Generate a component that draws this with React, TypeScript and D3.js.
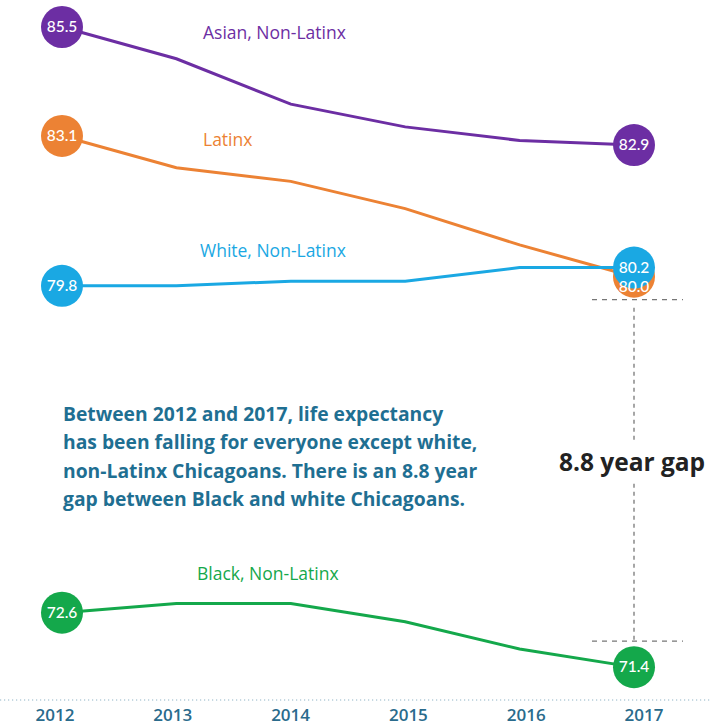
import React from "react";
import * as d3 from "d3";

const years = [2012, 2013, 2014, 2015, 2016, 2017];
const yearLabels = ["2012", "2013", "2014", "2015", "2016", "2017"];
const asian = [85.5, 84.8, 83.8, 83.3, 83.0, 82.9];
const latinx = [83.1, 82.4, 82.1, 81.5, 80.7, 80.0];
const white = [79.8, 79.8, 79.9, 79.9, 80.2, 80.2];
const black = [72.6, 72.8, 72.8, 72.4, 71.8, 71.4];
const seriesNames = ["Asian, Non-Latinx", "Latinx", "White, Non-Latinx", "Black, Non-Latinx"];
const seriesColors = ["#6c2ea3", "#ec8234", "#1aa8e3", "#14a84b"];
const annotationLines = [
  "Between 2012 and 2017, life expectancy",
  "has been falling for everyone except white,",
  "non-Latinx Chicagoans. There is an 8.8 year",
  "gap between Black and white Chicagoans.",
];
const gapLabel = "8.8 year gap";

const W = 711;
const H = 725;
const FONT = "'Open Sans', Lato, sans-serif";
const NUM_FONT = "Lato, 'Open Sans', sans-serif";

export default function App() {
  const x = d3.scalePoint<number>().domain(years).range([62, 634]);
  const xLab = d3.scalePoint<string>().domain(yearLabels).range([55, 644]);
  const y = d3.scaleLinear().domain([71, 86]).range([685.3, 4.3]);
  const line = d3
    .line<number>()
    .x((_, i) => x(years[i]) as number)
    .y((d) => y(d))
    .curve(d3.curveLinear);

  const series = [asian, latinx, white, black];
  const labelPos = [
    { x: 203, y: 39 },
    { x: 203, y: 146 },
    { x: 200, y: 257 },
    { x: 197, y: 580 },
  ];
  const r = 21;
  const last = years.length - 1;
  const xEnd = x(years[last]) as number;
  const gapTop = y(latinx[last]) + 23;
  const gapBottom = y(black[last]) - 26;

  // draw order: black, asian, latinx, white
  const order = [3, 0, 1, 2];

  return (
    <svg
      width={W}
      height={H}
      style={{ position: "absolute", left: 0, top: 0, display: "block", background: "#fff" }}
      fontFamily={FONT}
    >
      {/* axis dotted line */}
      <line x1={0} x2={W} y1={700} y2={700} stroke="#8fb3c6" strokeWidth={1.2} strokeDasharray="1.2,2.8" />
      {yearLabels.map((t) => (
        <text
          key={t}
          x={xLab(t)}
          y={721}
          textAnchor="middle"
          fontSize={17}
          fontWeight={600}
          fill="#2a6b8c"
        >
          {t}
        </text>
      ))}

      {/* gap bracket */}
      <g stroke="#777" strokeWidth={1.3} strokeDasharray="5,5" fill="none">
        <line x1={592} x2={683} y1={gapTop} y2={gapTop} />
        <line x1={592} x2={683} y1={gapBottom} y2={gapBottom} />
        <line x1={xEnd} x2={xEnd} y1={gapTop + 8} y2={gapBottom} strokeDasharray="4,4" />
      </g>
      <rect x={553} y={442} width={158} height={38} fill="#fff" />
      <text x={632} y={471} textAnchor="middle" fontSize={24.5} fontWeight={700} fill="#222">
        {gapLabel}
      </text>

      {/* annotation */}
      {annotationLines.map((l, i) => (
        <text key={i} x={63} y={421 + i * 28.3} fontSize={19.3} fontWeight={700} fill="#1f6f92">
          {l}
        </text>
      ))}

      {/* series lines */}
      {order.map((si) => (
        <path key={si} d={line(series[si]) || ""} fill="none" stroke={seriesColors[si]} strokeWidth={3} />
      ))}

      {/* series labels */}
      {seriesNames.map((n, si) => (
        <text key={n} x={labelPos[si].x} y={labelPos[si].y} fontSize={17.5} fontWeight={500} fill={seriesColors[si]}>
          {n}
        </text>
      ))}

      {/* end circles */}
      {order.map((si) => {
        const s = series[si];
        return (
          <g key={si}>
            <circle cx={x(years[0])} cy={y(s[0])} r={r} fill={seriesColors[si]} />
            <circle cx={x(years[last])} cy={y(s[last])} r={r} fill={seriesColors[si]} />
          </g>
        );
      })}
      {order.map((si) => {
        const s = series[si];
        const endDy = si === 1 ? 15 : 5;
        return (
          <g key={"t" + si} fill="#fff" fontSize={15.5} fontWeight={500} textAnchor="middle" fontFamily={NUM_FONT}>
            <text x={x(years[0])} y={y(s[0]) + 5}>
              {s[0].toFixed(1)}
            </text>
            <text x={x(years[last])} y={y(s[last]) + endDy}>
              {s[last].toFixed(1)}
            </text>
          </g>
        );
      })}
    </svg>
  );
}
